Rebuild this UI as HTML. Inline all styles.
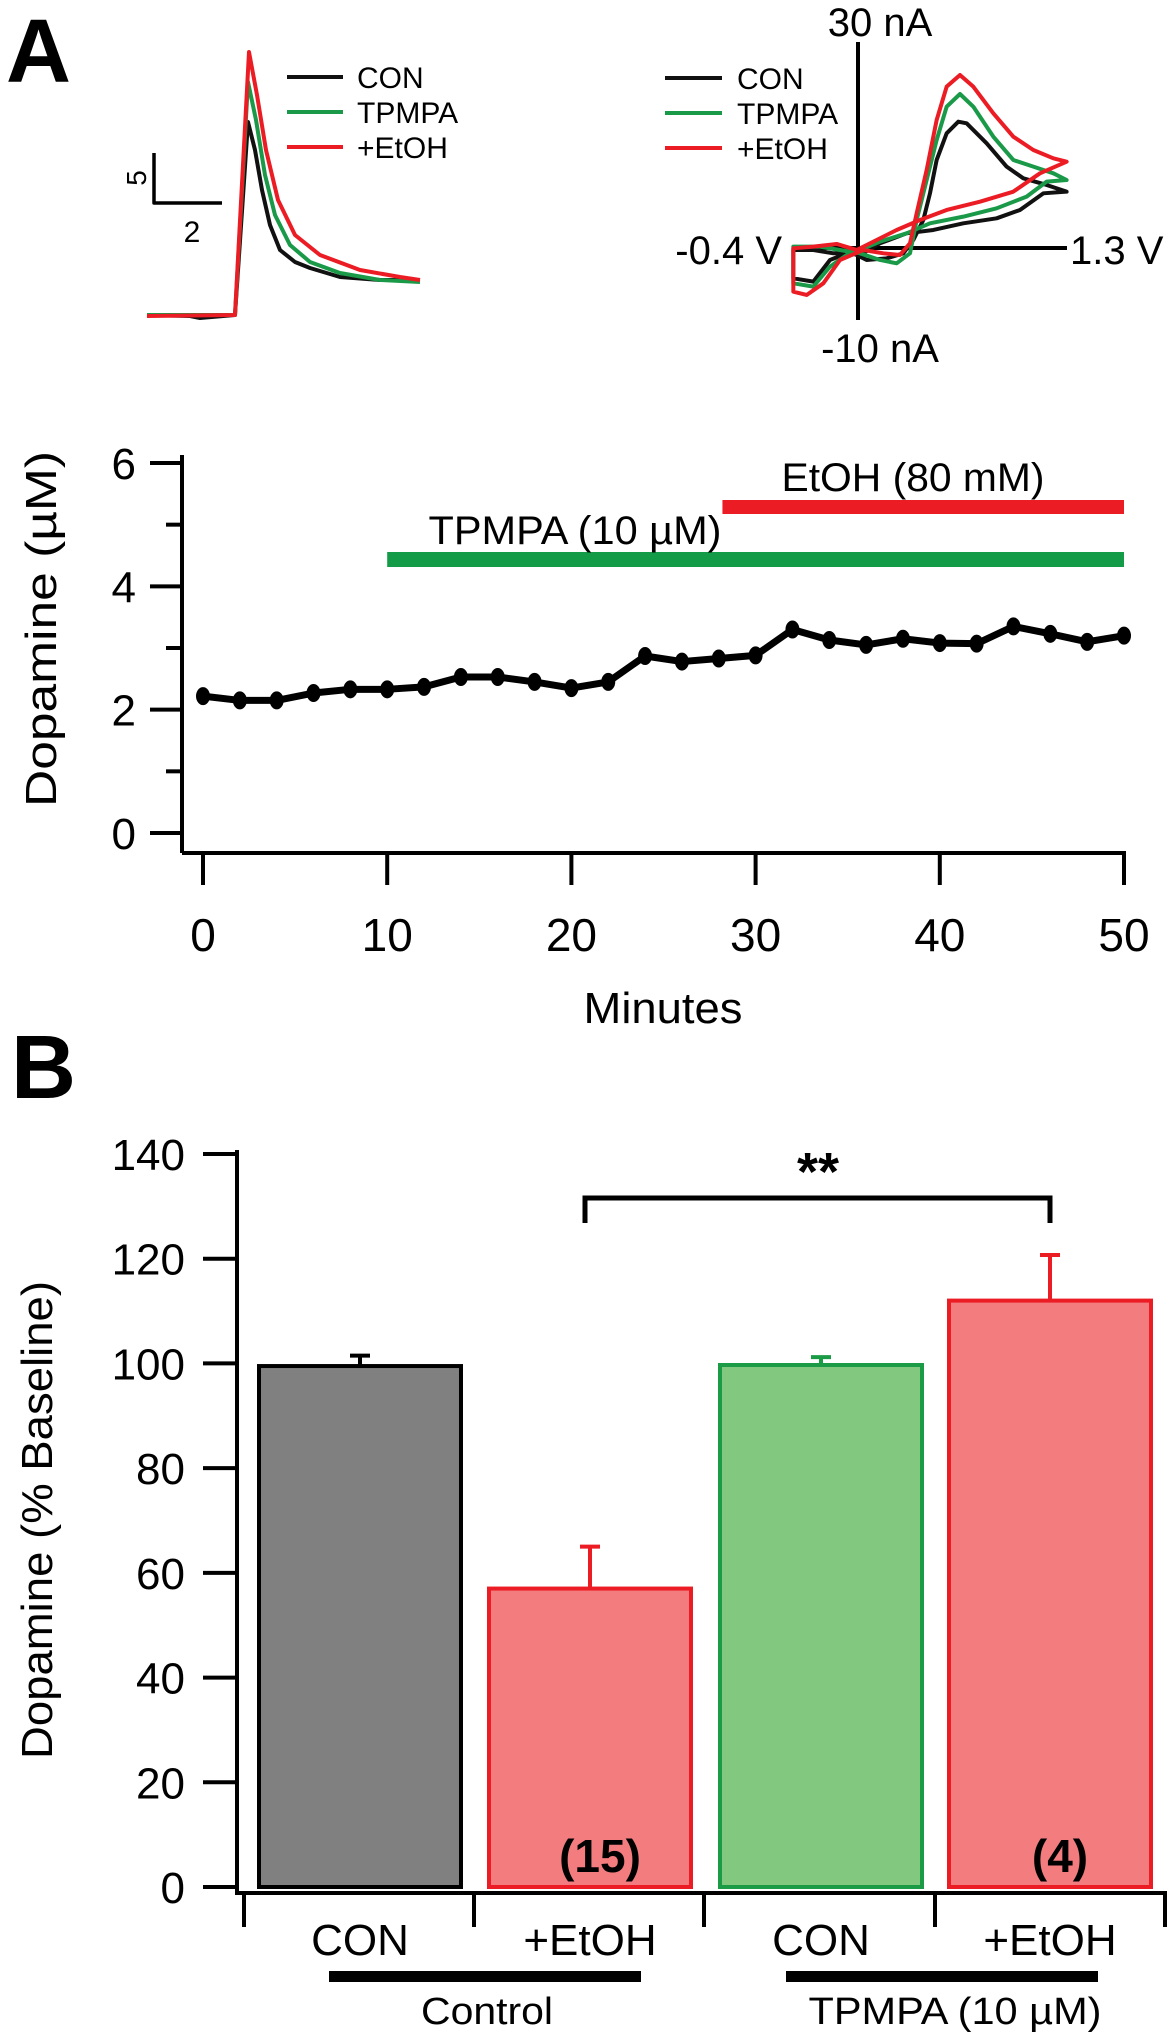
<!DOCTYPE html>
<html><head><meta charset="utf-8"><style>
html,body{margin:0;padding:0;background:#fff}
svg{display:block;font-family:"Liberation Sans",Arial,sans-serif}
</style></head><body>
<svg id="fig" width="1173" height="2040" viewBox="0 0 1173 2040" xmlns="http://www.w3.org/2000/svg">
<text x="6" y="82" font-size="90" font-weight="bold">A</text>
<g id="amp" fill="none" stroke-width="4" stroke-linejoin="round">
<polyline stroke="#111" points="147,315 190,316 200,318 235,315 248,122 255,150 262,190 270,225 280,250 295,262 310,268 340,277 380,280 420,280"/>
<polyline stroke="#1a9a48" points="147,315 235,315 248,82 256,120 265,175 275,215 290,245 310,262 340,273 380,280 420,282"/>
<polyline stroke="#ec1c24" points="147,316 235,315 249,52 257,95 266,150 278,200 295,235 320,255 360,270 400,277 420,280"/>
<polyline stroke="#000" stroke-width="3.5" points="154,153 154,203 222,203"/>
</g>
<text x="146" y="178" font-size="28" transform="rotate(-90 146 178)" text-anchor="middle">5</text>
<text x="192" y="242" font-size="30" text-anchor="middle">2</text>
<g font-size="30">
<line x1="287" x2="343" y1="77" y2="77" stroke="#111" stroke-width="4"/>
<line x1="287" x2="343" y1="112" y2="112" stroke="#1a9a48" stroke-width="4"/>
<line x1="287" x2="343" y1="147" y2="147" stroke="#ec1c24" stroke-width="4"/>
<text x="357" y="88">CON</text>
<text x="357" y="123">TPMPA</text>
<text x="357" y="158">+EtOH</text>
</g>
<g font-size="30">
<line x1="665" x2="722" y1="78" y2="78" stroke="#111" stroke-width="4"/>
<line x1="665" x2="722" y1="113" y2="113" stroke="#1a9a48" stroke-width="4"/>
<line x1="665" x2="722" y1="148" y2="148" stroke="#ec1c24" stroke-width="4"/>
<text x="737" y="89">CON</text>
<text x="737" y="124">TPMPA</text>
<text x="737" y="159">+EtOH</text>
</g>
<g>
<line x1="858" x2="858" y1="42" y2="320" stroke="#000" stroke-width="4"/>
<line x1="793" x2="1067" y1="248" y2="248" stroke="#000" stroke-width="4"/>
<g transform="translate(780,20) scale(0.3333)" fill="none" stroke-width="12" stroke-linejoin="round">
<polygon stroke="#111" points="40,775 100,785 150,720 200,700 240,705 300,670 380,640 460,630 550,610 650,595 720,570 790,520 860,515 800,495 730,475 680,440 620,370 560,310 535,305 500,340 470,420 450,520 430,600 400,660 370,700 320,715 260,720 220,700 160,700 100,690 40,690"/>
<polygon stroke="#1a9a48" points="40,790 100,800 150,740 200,705 240,690 300,665 380,640 450,610 550,590 650,565 740,530 800,485 860,480 820,460 760,440 700,420 640,350 580,260 540,222 500,260 470,360 440,480 410,600 390,700 350,730 300,720 240,700 180,690 120,680 40,680"/>
<polygon stroke="#ec1c24" points="40,685 100,680 170,672 230,690 290,660 350,630 420,600 500,570 600,545 700,515 780,460 860,425 820,415 760,390 700,350 640,280 580,200 540,165 500,200 470,300 440,450 410,580 390,670 360,705 310,700 250,690 180,720 130,790 80,825 40,815"/>
</g>
<text x="880" y="36" font-size="40" text-anchor="middle">30 nA</text>
<text x="880" y="362" font-size="40" text-anchor="middle">-10 nA</text>
<text x="782" y="264" font-size="40" text-anchor="end">-0.4 V</text>
<text x="1070" y="264" font-size="40">1.3 V</text>
</g>
<g id="tc"></g>
<g id="bc"></g>
<text x="11" y="1098" font-size="90" font-weight="bold">B</text>
</svg>
<script>
const NS='http://www.w3.org/2000/svg';
function mk(p,t,a,txt){const e=document.createElementNS(NS,t);for(const k in a)e.setAttribute(k,a[k]);if(txt!==undefined)e.textContent=txt;p.appendChild(e);return e;}
// ---- time course data ----
const tcMinutes=[0,2,4,6,8,10,12,14,16,18,20,22,24,26,28,30,32,34,36,38,40,42,44,46,48,50];
const tcDopamine=[2.22,2.15,2.15,2.27,2.33,2.33,2.37,2.53,2.53,2.45,2.35,2.45,2.87,2.78,2.83,2.88,3.3,3.13,3.05,3.15,3.08,3.07,3.35,3.23,3.1,3.2];
const tcYTicks=[0,2,4,6];
const tcXTicks=[0,10,20,30,40,50];
const tpmpaStart=[10];
const etohStart=[28.2];
// ---- bar data ----
const barCats=['CON','+EtOH','CON','+EtOH'];
const barVals=[99.5,57,99.7,112];
const barErr=[2,8,1.5,8.7];
const barN=['','(15)','','(4)'];
const barYTicks=[0,20,40,60,80,100,120,140];

(function(){
const g=document.getElementById('tc');
const X=v=>203+v*(1124-203)/50, Y=v=>833-v*(833-463)/6;
let e=mk(g,'line',{x1:182,x2:182,y1:455,y2:853,stroke:'#000','stroke-width':4});

for(let v=0;v<=6;v++){e=mk(g,'line',{x1:v%2?166:150,x2:182,y1:Y(v),y2:Y(v),stroke:'#000','stroke-width':4});
}
tcYTicks.forEach(v=>{e=mk(g,'text',{x:136,y:Y(v)+16,'font-size':44,'text-anchor':'end'},String(v));
});
e=mk(g,'line',{x1:182,x2:1126,y1:853,y2:853,stroke:'#000','stroke-width':4});

tcXTicks.forEach(v=>{e=mk(g,'line',{x1:X(v),x2:X(v),y1:853,y2:885,stroke:'#000','stroke-width':4});

e=mk(g,'text',{x:X(v),y:951,'font-size':46,'text-anchor':'middle'},String(v));
});
e=mk(g,'text',{x:663,y:1023,'font-size':44,'text-anchor':'middle',textLength:159,lengthAdjust:'spacingAndGlyphs'},'Minutes');

e=mk(g,'text',{x:56,y:629,'font-size':44,'text-anchor':'middle',textLength:356,lengthAdjust:'spacingAndGlyphs',transform:'rotate(-90 56 629)'},'Dopamine (µM)');

e=mk(g,'rect',{x:X(tpmpaStart[0]),y:552,width:X(50)-X(tpmpaStart[0]),height:15,fill:'#149b48'});

e=mk(g,'text',{x:575,y:544,'font-size':40,'text-anchor':'middle',textLength:293,lengthAdjust:'spacingAndGlyphs'},'TPMPA (10 µM)');

e=mk(g,'rect',{x:X(etohStart[0]),y:500,width:X(50)-X(etohStart[0]),height:14,fill:'#ec1c24'});

e=mk(g,'text',{x:913,y:491,'font-size':40,'text-anchor':'middle',textLength:263,lengthAdjust:'spacingAndGlyphs'},'EtOH (80 mM)');

e=mk(g,'polyline',{points:tcMinutes.map((m,i)=>X(m)+','+Y(tcDopamine[i])).join(' '),fill:'none',stroke:'#000','stroke-width':7,'stroke-linejoin':'round'});

tcMinutes.forEach((m,i)=>{e=mk(g,'ellipse',{cx:X(m),cy:Y(tcDopamine[i]),rx:7,ry:9,fill:'#000'});
});
})();

(function(){
const g=document.getElementById('bc');
const Y=v=>1887-v*(1887-1154)/140;
const lefts=[259,489,720,949],W=202;
const fills=['#808080','#f27c7e','#82c97f','#f27c7e'],strokes=['#000','#ec1c24','#1b9b45','#ec1c24'];
let e=mk(g,'line',{x1:237,x2:237,y1:1150,y2:1895,stroke:'#000','stroke-width':4});

barYTicks.forEach(v=>{e=mk(g,'line',{x1:203,x2:237,y1:Y(v),y2:Y(v),stroke:'#000','stroke-width':4});

e=mk(g,'text',{x:185,y:Y(v)+16,'font-size':44,'text-anchor':'end'},String(v));
});
e=mk(g,'text',{x:52,y:1520,'font-size':44,'text-anchor':'middle',textLength:478,lengthAdjust:'spacingAndGlyphs',transform:'rotate(-90 52 1520)'},'Dopamine (% Baseline)');

e=mk(g,'line',{x1:235,x2:1167,y1:1893,y2:1893,stroke:'#000','stroke-width':4});

[244,474,704,935,1165].forEach(x=>{e=mk(g,'line',{x1:x,x2:x,y1:1893,y2:1927,stroke:'#000','stroke-width':4});
});
barVals.forEach((v,i)=>{const cx=lefts[i]+W/2;
e=mk(g,'line',{x1:cx,x2:cx,y1:Y(v),y2:Y(v+barErr[i]),stroke:strokes[i],'stroke-width':4});

e=mk(g,'line',{x1:cx-10,x2:cx+10,y1:Y(v+barErr[i]),y2:Y(v+barErr[i]),stroke:strokes[i],'stroke-width':4});

e=mk(g,'rect',{x:lefts[i],y:Y(v),width:W,height:Y(0)-Y(v),fill:fills[i],stroke:strokes[i],'stroke-width':4});

if(barN[i]){e=mk(g,'text',{x:cx+10,y:1872,'font-size':46,'font-weight':'bold','text-anchor':'middle'},barN[i]);
}
e=mk(g,'text',{x:cx,y:1955,'font-size':44,'text-anchor':'middle'},barCats[i]);
});
e=mk(g,'polyline',{points:'585,1223 585,1198 1050,1198 1050,1223',fill:'none',stroke:'#000','stroke-width':5});

e=mk(g,'text',{x:818,y:1190,'font-size':54,'font-weight':'bold','text-anchor':'middle'},'**');

e=mk(g,'rect',{x:329,y:1971,width:312,height:11,fill:'#000'});

e=mk(g,'rect',{x:786,y:1971,width:312,height:11,fill:'#000'});

e=mk(g,'text',{x:487,y:2024,'font-size':38,'text-anchor':'middle',textLength:132,lengthAdjust:'spacingAndGlyphs'},'Control');

e=mk(g,'text',{x:955,y:2024,'font-size':38,'text-anchor':'middle',textLength:293,lengthAdjust:'spacingAndGlyphs'},'TPMPA (10 µM)');

})();
</script>
</body></html>
